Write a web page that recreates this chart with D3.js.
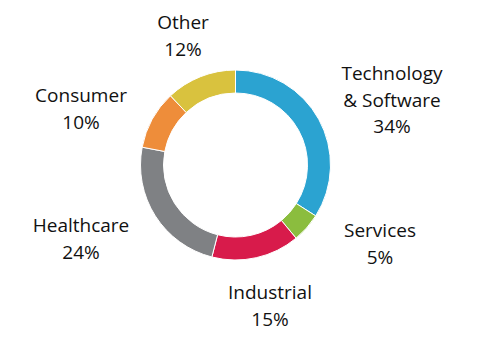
<!DOCTYPE html>
<html><head><meta charset="utf-8">
<script src="https://cdn.jsdelivr.net/npm/d3@7"></script>
<style>html,body{margin:0;padding:0;background:#fff;}svg{display:block;}</style>
</head><body>
<script>
const categories = ["Technology & Software", "Services", "Industrial", "Healthcare", "Consumer", "Other"];
const labelLines = [["Technology", "& Software"], ["Services"], ["Industrial"], ["Healthcare"], ["Consumer"], ["Other"]];
const values = [34, 5, 15, 24, 10, 12];
const colors = ["#2ba3d1", "#8bbd3e", "#d81b4b", "#7f8184", "#ee8d3a", "#d9c23e"];

const W = 480, H = 346;
const cx = 235.5, cy = 165, rOuter = 95, rInner = 72;
// label anchor (center x, first baseline y) per category
const labelPos = [[392, 80], [380, 237], [270, 299], [81, 232], [81, 102], [183, 29]];
const lineH = 26.5;

const svg = d3.select("body").append("svg").attr("width", W).attr("height", H);
const pie = d3.pie().sort(null).value(d => d)(values);
const arc = d3.arc().innerRadius(rInner).outerRadius(rOuter);
const g = svg.append("g").attr("transform", `translate(${cx},${cy})`);
g.selectAll("path").data(pie).join("path")
  .attr("d", arc)
  .attr("fill", (d, i) => colors[i])
  .attr("stroke", "#fff").attr("stroke-width", 1);

const labels = svg.append("g")
  .attr("font-family", "'Open Sans', sans-serif")
  .attr("font-size", 19).attr("fill", "#111").attr("text-anchor", "middle");
pie.forEach((d, i) => {
  const lines = labelLines[i].concat([values[i] + "%"]);
  const t = labels.append("text");
  lines.forEach((ln, j) => {
    t.append("tspan").attr("x", labelPos[i][0]).attr("y", labelPos[i][1] + j * lineH).text(ln);
  });
});
</script>
</body></html>
